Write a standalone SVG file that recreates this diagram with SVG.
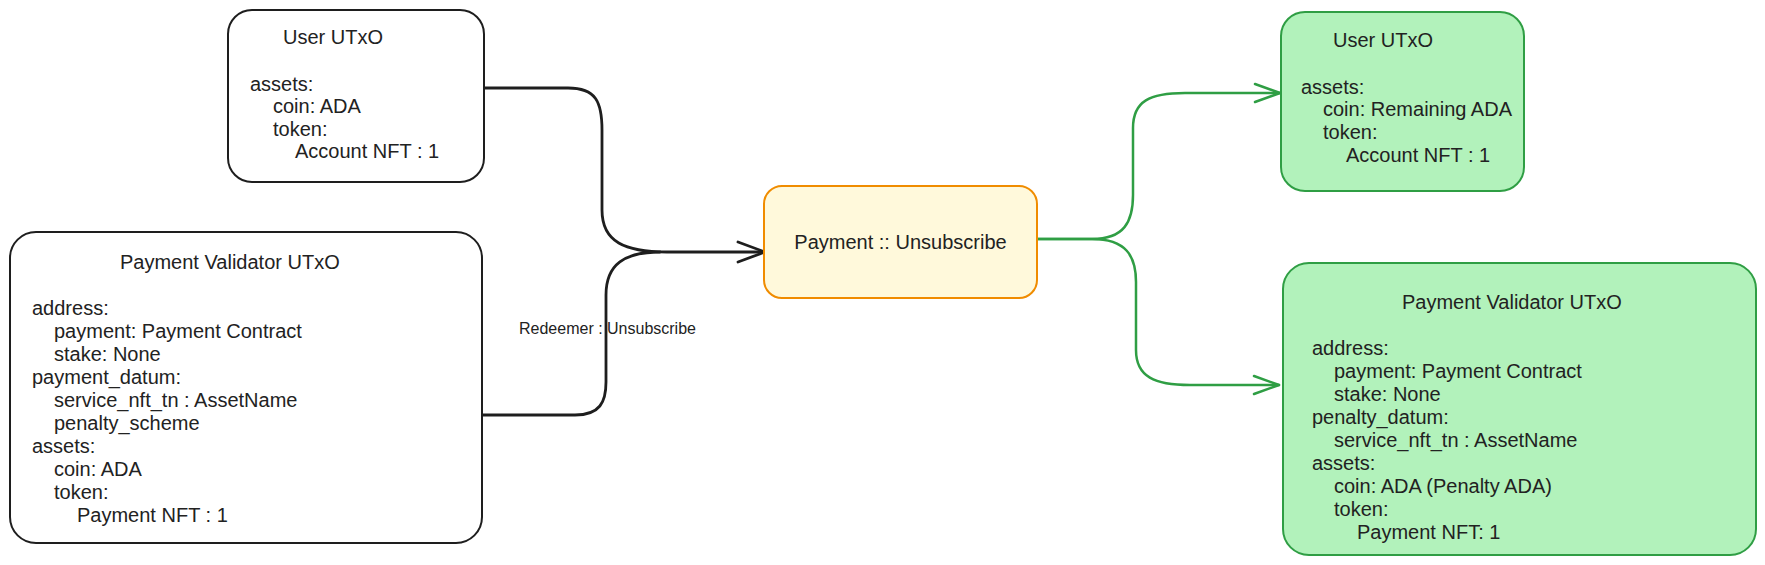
<svg xmlns="http://www.w3.org/2000/svg" width="1765" height="565" viewBox="0 0 1765 565">
  <style>
    text { font-family: "Liberation Sans", Arial, sans-serif; font-size: 20px; fill: #222222; }
    .lbl { font-size: 16px; }
    .box { stroke: #1e1e1e; stroke-width: 2; fill: #ffffff; }
    .gbox { stroke: #2f9e44; stroke-width: 2; fill: #b2f2bb; }
    .obox { stroke: #f08c00; stroke-width: 2; fill: #fff9db; }
    .blk { fill: none; stroke: #1e1e1e; stroke-width: 2.8; stroke-linecap: round; stroke-linejoin: round; }
    .grn { fill: none; stroke: #2f9e44; stroke-width: 2.5; stroke-linecap: round; stroke-linejoin: round; }
  </style>
  <rect width="1765" height="565" fill="#ffffff"/>

  <g id="connectors">
    <path class="blk" d="M485,88 L568,88 C596,88 602,102 602,130 L602,210 C602,242 625,252 667,252 L763,252"/>
    <path class="blk" d="M483,415 L575,415 C600,415 606,402 606,382 L606,295 C606,264 625,252 660,252"/>
    <polyline class="blk" stroke-width="3.2" points="738,242 765,252 738,262"/>
    <text class="lbl" x="519" y="334">Redeemer : Unsubscribe</text>
    <path class="grn" d="M1037,239 L1092,239 C1124,239 1133,222 1133,195 L1133,128 C1133,101 1150,93 1185,93 L1280,93"/>
    <polyline class="grn" points="1255,84 1280,93 1255,102"/>
    <path class="grn" d="M1037,239 L1092,239 C1126,239 1136,256 1136,282 L1136,350 C1136,377 1155,385 1190,385 L1279,385"/>
    <polyline class="grn" points="1254,376 1279,385 1254,394"/>
  </g>

  <g id="user-utxo-in">
    <rect class="box" x="228" y="10" width="256" height="172" rx="24"/>
    <text x="283" y="44">User UTxO</text>
    <text x="250" y="91">assets:</text>
    <text x="273" y="113">coin: ADA</text>
    <text x="273" y="136">token:</text>
    <text x="295" y="158">Account NFT : 1</text>
  </g>

  <g id="payment-validator-in">
    <rect class="box" x="10" y="232" width="472" height="311" rx="26"/>
    <text x="120" y="269">Payment Validator UTxO</text>
    <text x="32" y="315">address:</text>
    <text x="54" y="338">payment: Payment Contract</text>
    <text x="54" y="361">stake: None</text>
    <text x="32" y="384">payment_datum:</text>
    <text x="54" y="407">service_nft_tn : AssetName</text>
    <text x="54" y="430">penalty_scheme</text>
    <text x="32" y="453">assets:</text>
    <text x="54" y="476">coin: ADA</text>
    <text x="54" y="499">token:</text>
    <text x="77" y="522">Payment NFT : 1</text>
  </g>

  <g id="payment-unsubscribe">
    <rect class="obox" x="764" y="186" width="273" height="112" rx="18"/>
    <text x="900.5" y="249" text-anchor="middle">Payment :: Unsubscribe</text>
  </g>

  <g id="user-utxo-out">
    <rect class="gbox" x="1281" y="12" width="243" height="179" rx="24"/>
    <text x="1333" y="47">User UTxO</text>
    <text x="1301" y="94">assets:</text>
    <text x="1323" y="116">coin: Remaining ADA</text>
    <text x="1323" y="139">token:</text>
    <text x="1346" y="162">Account NFT : 1</text>
  </g>

  <g id="payment-validator-out">
    <rect class="gbox" x="1283" y="263" width="473" height="292" rx="26"/>
    <text x="1402" y="309">Payment Validator UTxO</text>
    <text x="1312" y="355">address:</text>
    <text x="1334" y="378">payment: Payment Contract</text>
    <text x="1334" y="401">stake: None</text>
    <text x="1312" y="424">penalty_datum:</text>
    <text x="1334" y="447">service_nft_tn : AssetName</text>
    <text x="1312" y="470">assets:</text>
    <text x="1334" y="493">coin: ADA (Penalty ADA)</text>
    <text x="1334" y="516">token:</text>
    <text x="1357" y="539">Payment NFT: 1</text>
  </g>
</svg>
